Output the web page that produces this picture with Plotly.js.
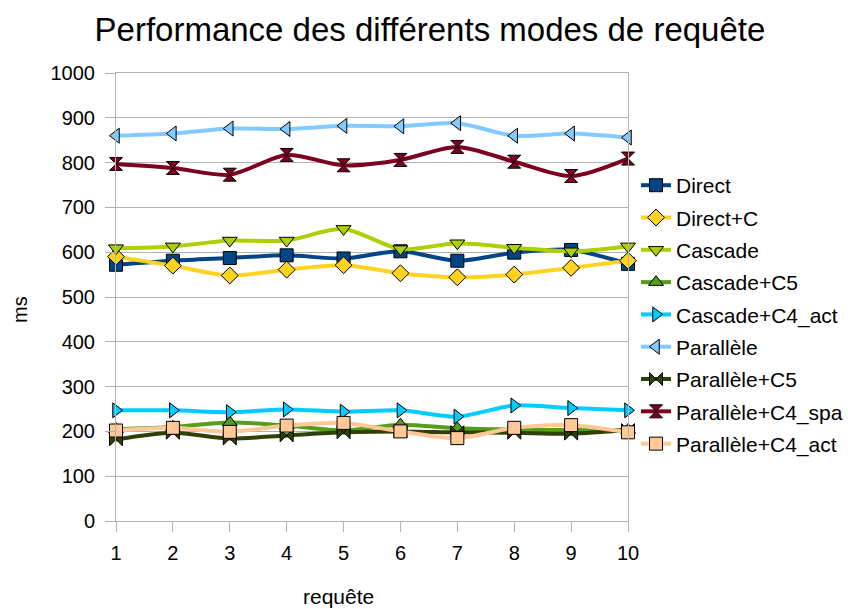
<!DOCTYPE html>
<html>
<head>
<meta charset="utf-8">
<script src="https://cdn.plot.ly/plotly-3.0.1.min.js"></script>
<style>html,body{margin:0;padding:0;background:#fff;}#chart{width:848px;height:609px;}</style>
</head>
<body>
<div id="chart"></div>
<script>
const requetes = [1, 2, 3, 4, 5, 6, 7, 8, 9, 10];

const seriesNames = ["Direct", "Direct+C", "Cascade", "Cascade+C5", "Cascade+C4_act",
  "Parallèle", "Parallèle+C5", "Parallèle+C4_spa", "Parallèle+C4_act"];

const direct          = [572, 581, 587, 593, 586, 602, 581, 599, 605, 574];
const directC         = [590, 570, 548, 561, 571, 553, 544, 550, 565, 581];
const cascade         = [609, 613, 626, 626, 652, 607, 620, 610, 602, 613];
const cascadeC5       = [205, 210, 220, 213, 202, 215, 207, 204, 203, 203];
const cascadeC4act    = [247, 247, 243, 249, 244, 247, 233, 258, 252, 247];
const parallele       = [860, 865, 876, 875, 882, 881, 888, 860, 865, 856];
const paralleleC5     = [182, 197, 184, 191, 198, 200, 198, 197, 195, 203];
const paralleleC4spa  = [797, 788, 773, 817, 794, 806, 835, 802, 770, 809];
const paralleleC4act  = [202, 208, 199, 213, 219, 200, 185, 208, 214, 198];

const values = [direct, directC, cascade, cascadeC5, cascadeC4act,
  parallele, paralleleC5, paralleleC4spa, paralleleC4act];

const colors = ["#004586", "#ffd320", "#aecf00", "#579d1c", "#00ccff",
  "#83caff", "#314004", "#7e0021", "#ffc896"];
const symbols = ["square", "diamond", "triangle-down", "triangle-up", "triangle-right",
  "triangle-left", "bowtie", "hourglass", "square"];

const traces = seriesNames.map((name, i) => ({
  type: "scatter",
  mode: "lines+markers",
  name: name,
  x: requetes,
  y: values[i],
  legendgroup: "g" + i,
  line: {color: colors[i], width: 4, shape: "spline", smoothing: 0.8},
  marker: {symbol: symbols[i], size: 13, color: colors[i], line: {color: "#000", width: 1}},
  cliponaxis: false
}));

const font = "'Liberation Sans', Arial, sans-serif";

const layout = {
  width: 848, height: 609,
  margin: {l: 116, r: 220, t: 73, b: 88, autoexpand: false},
  paper_bgcolor: "#fff", plot_bgcolor: "#fff",
  font: {family: font, size: 20, color: "#000"},
  title: {text: "Performance des différents modes de requête", xref: "container", x: 0.507, xanchor: "center",
    yref: "container", y: 0.951, yanchor: "middle", font: {family: font, size: 33, color: "#000"}},
  xaxis: {
    range: [1, 10], tickvals: requetes, ticktext: requetes.map(String),
    showgrid: false, zeroline: false, showline: true, linecolor: "#b3b3b3", linewidth: 1,
    mirror: true, ticks: "outside", ticklen: 10, tickcolor: "#b3b3b3",
    ticklabelstandoff: 4, tickfont: {size: 20}
  },
  yaxis: {
    range: [0, 1000], dtick: 100, showgrid: true, gridcolor: "#b3b3b3", gridwidth: 1,
    zeroline: false, showline: true, linecolor: "#b3b3b3", linewidth: 1, mirror: true,
    ticks: "outside", ticklen: 10, tickcolor: "#b3b3b3",
    ticklabelstandoff: 6, tickfont: {size: 20}
  },
  annotations: [
    {text: "requête", xref: "paper", yref: "paper", x: (338 - 116) / 512, y: -(596 - 521) / 448,
      xanchor: "center", yanchor: "middle", showarrow: false, font: {size: 21}},
    {text: "ms", xref: "paper", yref: "paper", x: -(116 - 20) / 512, y: (521 - 310) / 448,
      xanchor: "center", yanchor: "middle", textangle: -90, showarrow: false, font: {size: 20}}
  ],
  showlegend: true,
  legend: {x: (636 - 116) / 512, xanchor: "left", y: 0.7945, yanchor: "top",
    traceorder: "grouped", tracegroupgap: 2, font: {size: 21}, itemwidth: 30,
    bgcolor: "rgba(0,0,0,0)"}
};

Plotly.newPlot("chart", traces, layout, {displayModeBar: false, staticPlot: true});
</script>
</body>
</html>
